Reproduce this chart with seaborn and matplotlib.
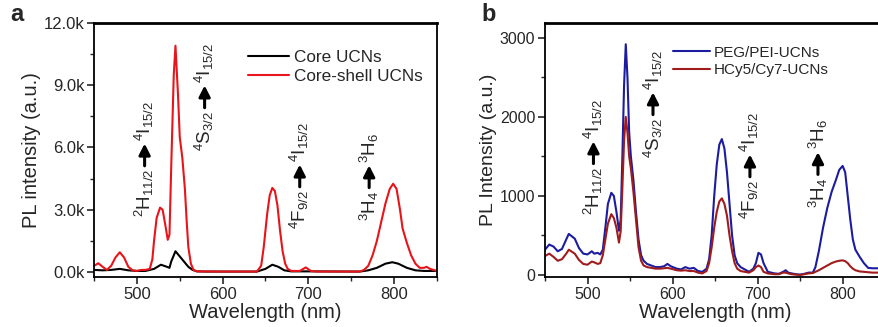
import matplotlib
matplotlib.use("Agg")
import matplotlib.pyplot as plt
import matplotlib.transforms as mtrans
import seaborn as sns
from matplotlib.ticker import MultipleLocator, FuncFormatter

# ---- panel a: core vs core-shell (counts, k) ----
wl_core_shell = [450, 455, 460, 465, 470, 475, 480, 485, 490, 495, 500, 505, 510, 515,
                 518, 520, 523, 527, 530, 533, 536, 538, 540, 543, 545, 548, 550, 553,
                 556, 558, 560, 563, 566, 570, 600, 640, 645, 648, 652, 655, 658, 661,
                 664, 667, 670, 673, 676, 680, 690, 697, 703, 710, 760, 765, 770, 775,
                 780, 785, 790, 795, 799, 803, 807, 810, 815, 820, 825, 830, 835, 838,
                 842, 850]
core_shell = [0.30, 0.42, 0.25, 0.10, 0.30, 0.70, 0.95, 0.70, 0.25, 0.08, 0.05, 0.10, 0.10, 0.15,
              0.60, 1.50, 2.60, 3.10, 3.00, 2.30, 1.55, 1.80, 5.00, 9.50, 10.90, 8.50, 6.50, 5.50,
              4.00, 2.50, 1.20, 0.40, 0.10, 0.03, 0.02, 0.02, 0.30, 1.20, 2.80, 3.70, 4.05, 3.90,
              3.20, 2.00, 1.00, 0.40, 0.15, 0.05, 0.05, 0.22, 0.05, 0.02, 0.02, 0.10, 0.30, 0.80,
              1.50, 2.40, 3.30, 4.00, 4.25, 4.00, 3.00, 2.10, 1.40, 0.80, 0.40, 0.20, 0.20, 0.25,
              0.15, 0.05]

wl_core = [450, 460, 470, 480, 490, 500, 510, 520, 528, 535, 538, 540, 545, 550, 555, 560,
           565, 570, 580, 640, 650, 658, 665, 672, 680, 700, 760, 770, 780, 790, 798, 805,
           815, 825, 835, 850]
core = [0.10, 0.08, 0.10, 0.15, 0.08, 0.05, 0.05, 0.15, 0.35, 0.25, 0.20, 0.50, 1.00, 0.75, 0.50, 0.25,
        0.10, 0.03, 0.02, 0.02, 0.15, 0.35, 0.25, 0.08, 0.03, 0.03, 0.02, 0.08, 0.20, 0.40, 0.47, 0.40,
        0.20, 0.08, 0.05, 0.05]

# ---- panel b: PEG/PEI vs HCy5/Cy7 ----
wl_b = [450, 455, 460, 465, 470, 475, 478, 485, 490, 495, 500, 505, 508, 512, 515, 518, 521,
        524, 528, 531, 534, 537, 539, 541, 543, 545, 547, 549, 551, 554, 557, 560, 563, 566,
        570, 575, 580, 585, 590, 594, 598, 605, 610, 615, 620, 625, 630, 635, 640, 643, 646,
        649, 652, 655, 658, 661, 664, 667, 670, 673, 676, 680, 685, 690, 695, 698, 701, 704,
        707, 712, 720, 725, 730, 733, 736, 740, 745, 750, 755, 760, 765, 768, 772, 777, 782,
        787, 792, 796, 800, 803, 806, 809, 812, 815, 820, 825, 830, 835, 850]
peg = [320, 385, 360, 300, 330, 450, 520, 460, 340, 270, 260, 300, 270, 280, 260, 320, 600,
       900, 1040, 1000, 800, 560, 700, 1500, 2400, 2920, 2500, 1800, 1500, 1200, 800, 450, 250, 180,
       140, 120, 100, 100, 110, 140, 110, 80, 70, 100, 80, 90, 50, 40, 80, 200, 500,
       1000, 1400, 1650, 1720, 1600, 1300, 900, 500, 250, 150, 100, 70, 40, 80, 150, 280, 260,
       150, 40, 20, 15, 40, 60, 30, 20, 10, 5, 15, 30, 30, 100, 300, 600, 850,
       1050, 1200, 1330, 1380, 1300, 1000, 700, 450, 320, 230, 150, 90, 85, 85]
hcy = [240, 270, 230, 180, 200, 270, 320, 270, 190, 140, 130, 170, 160, 140, 150, 250, 450,
       650, 770, 720, 600, 410, 550, 1100, 1700, 2000, 1800, 1500, 1350, 1050, 700, 350, 180, 120,
       100, 90, 80, 80, 85, 90, 80, 60, 55, 60, 50, 50, 30, 20, 50, 150, 350,
       600, 800, 930, 970, 900, 750, 500, 300, 150, 80, 50, 40, 30, 60, 100, 120, 100,
       40, 20, 10, 10, 30, 30, 20, 10, 5, 0, 10, 20, 25, 40, 60, 90, 120,
       150, 170, 180, 185, 175, 150, 110, 80, 60, 45, 40, 35, 30, 30]

# transition labels: initial state (below arrow) and final state (above arrow)
states_from = [r"$^2$H$_{11/2}$", r"$^4$S$_{3/2}$", r"$^4$F$_{9/2}$", r"$^3$H$_4$"]
states_to = [r"$^4$I$_{15/2}$", r"$^4$I$_{15/2}$", r"$^4$I$_{15/2}$", r"$^3$H$_6$"]
pos_a = [(509, 5650), (579, 8450), (690, 4640), (771, 4600)]
pos_b = [(507, 1550), (577, 2170), (691, 1384), (771, 1413)]

sns.set_theme(style="ticks")
plt.rcParams["font.family"] = ["Liberation Sans", "DejaVu Sans"]
plt.rcParams["mathtext.fontset"] = "custom"
plt.rcParams["mathtext.rm"] = "Liberation Sans"
plt.rcParams["mathtext.it"] = "Liberation Sans"
plt.rcParams["axes.linewidth"] = 1.3
plt.rcParams["xtick.major.width"] = 1.2
plt.rcParams["ytick.major.width"] = 1.2
plt.rcParams["xtick.minor.width"] = 1.0
plt.rcParams["ytick.minor.width"] = 1.0

fig = plt.figure(figsize=(8.79, 3.27), dpi=100)
ax1 = fig.add_axes([0.107, 0.153, 0.390, 0.777])
ax2 = fig.add_axes([0.620, 0.153, 0.387, 0.777])


def transition(ax, x, y, lo, hi, gap=10, alen=8):
    down = mtrans.offset_copy(ax.transData, fig=fig, x=0, y=-gap, units="points")
    up = mtrans.offset_copy(ax.transData, fig=fig, x=0, y=gap, units="points")
    ax.text(x, y, lo, transform=down, rotation=90, rotation_mode="anchor",
            ha="right", va="center", fontsize=13.5)
    ax.text(x, y, hi, transform=up, rotation=90, rotation_mode="anchor",
            ha="left", va="center", fontsize=13.5)
    a0 = mtrans.offset_copy(ax.transData, fig=fig, x=0, y=-alen, units="points")
    a1 = mtrans.offset_copy(ax.transData, fig=fig, x=0, y=alen, units="points")
    ax.annotate("", xy=(x, y), xycoords=a1, xytext=(x, y), textcoords=a0,
                arrowprops=dict(arrowstyle="-|>,head_width=0.28,head_length=0.55",
                                lw=2.2, color="black", shrinkA=0, shrinkB=0))


# panel a
sns.lineplot(x=wl_core, y=[v * 1000 for v in core], ax=ax1, color="black", lw=1.5,
             label="Core UCNs")
sns.lineplot(x=wl_core_shell, y=[v * 1000 for v in core_shell], ax=ax1, color="#e8141b",
             lw=1.5, label="Core-shell UCNs")
ax1.set_xlim(450, 850)
ax1.set_ylim(-240, 12000)
ax1.yaxis.set_major_locator(MultipleLocator(3000))
ax1.yaxis.set_minor_locator(MultipleLocator(1500))
ax1.yaxis.set_major_formatter(FuncFormatter(lambda v, p: f"{v / 1000:.1f}k"))
ax1.set_ylabel("PL intensity (a.u.)", fontsize=14.5, labelpad=2)
for (x, y), lo, hi in zip(pos_a, states_from, states_to):
    transition(ax1, x, y, lo, hi)

# panel b
sns.lineplot(x=wl_b, y=peg, ax=ax2, color="#1c1ca0", lw=1.5, label="PEG/PEI-UCNs")
sns.lineplot(x=wl_b, y=hcy, ax=ax2, color="#a01c1c", lw=1.5, label="HCy5/Cy7-UCNs")
ax2.set_xlim(450, 850)
ax2.set_ylim(-25, 3190)
ax2.yaxis.set_major_locator(MultipleLocator(1000))
ax2.yaxis.set_minor_locator(MultipleLocator(500))
ax2.set_ylabel("PL Intensity (a.u.)", fontsize=14, labelpad=2)
for (x, y), lo, hi in zip(pos_b, states_from, states_to):
    transition(ax2, x, y, lo, hi)

for ax, fs in ((ax1, 12), (ax2, 11.5)):
    ax.xaxis.set_major_locator(MultipleLocator(100))
    ax.xaxis.set_minor_locator(MultipleLocator(50))
    ax.set_xlabel("Wavelength (nm)", fontsize=14.5, labelpad=1)
    ax.tick_params(which="major", direction="out", length=5, labelsize=fs, pad=2)
    ax.tick_params(which="minor", direction="out", length=3)
    for s in ax.spines.values():
        s.set_visible(True)
        s.set_color("black")
    ax.spines["top"].set_linewidth(2)
    ax.set_facecolor("white")

ax1.legend(loc="upper left", bbox_to_anchor=(0.43, 0.92), frameon=False, fontsize=12.3,
           handlelength=2.4, handletextpad=0.3, labelspacing=0.25, borderaxespad=0)
ax2.legend(loc="upper left", bbox_to_anchor=(0.358, 0.935), frameon=False, fontsize=11,
           handlelength=2.4, handletextpad=0.3, labelspacing=0.25, borderaxespad=0)

fig.text(0.012, 0.955, "a", fontsize=17, fontweight="bold", va="center")
fig.text(0.548, 0.955, "b", fontsize=17, fontweight="bold", va="center")

fig.savefig("out.png", dpi=100, facecolor="white")
